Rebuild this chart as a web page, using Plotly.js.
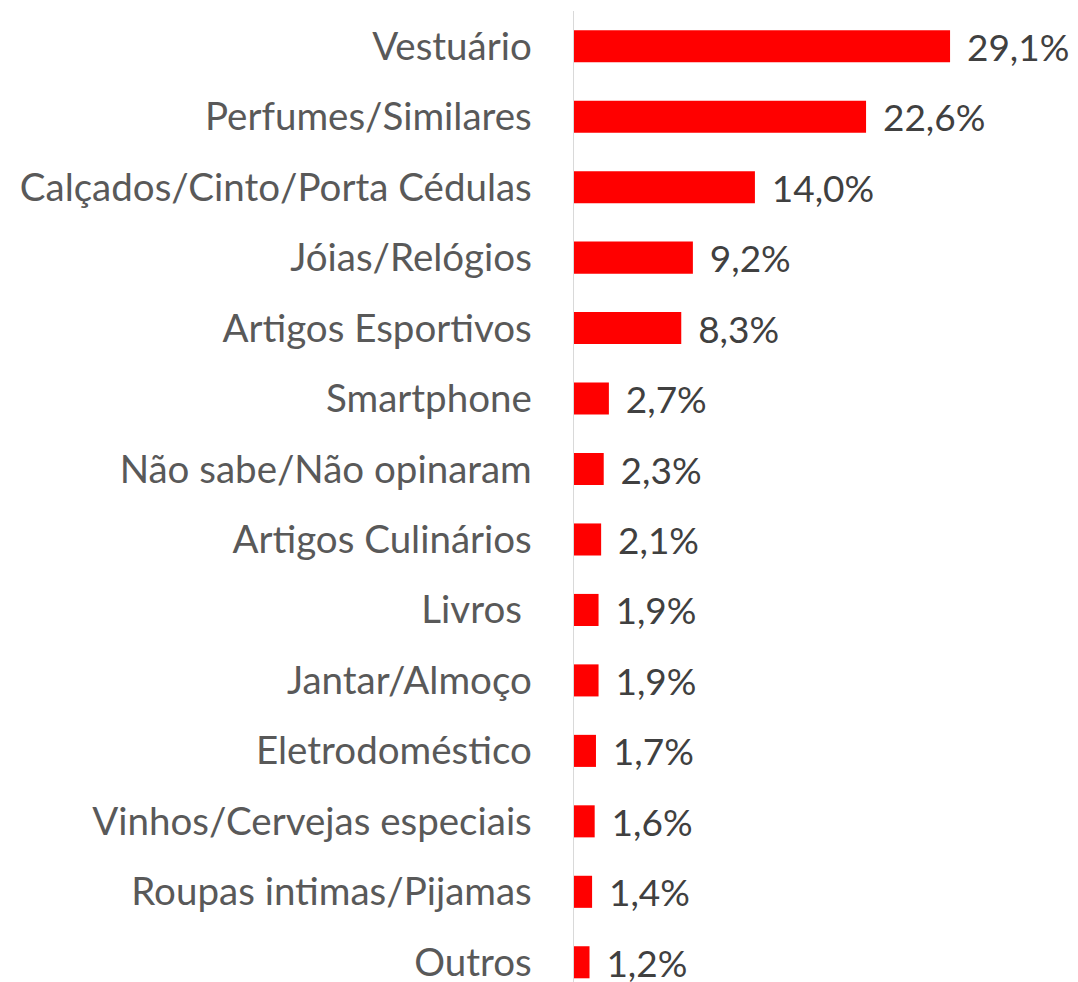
<!DOCTYPE html>
<html>
<head>
<meta charset="utf-8">
<script src="https://cdn.plot.ly/plotly-3.0.1.min.js"></script>
<style>html,body{margin:0;padding:0;background:#fff;}#chart{width:1078px;height:982px;}</style>
</head>
<body>
<div id="chart"></div>
<script>
const categories = [
  "Vestuário",
  "Perfumes/Similares",
  "Calçados/Cinto/Porta Cédulas",
  "Jóias/Relógios",
  "Artigos Esportivos",
  "Smartphone",
  "Não sabe/Não opinaram",
  "Artigos Culinários",
  "Livros\u00a0",
  "Jantar/Almoço",
  "Eletrodoméstico",
  "Vinhos/Cervejas especiais",
  "Roupas intimas/Pijamas",
  "Outros"
];
const values = [29.1, 22.6, 14.0, 9.2, 8.3, 2.7, 2.3, 2.1, 1.9, 1.9, 1.7, 1.6, 1.4, 1.2];
const valueLabels = values.map(v => "\u2009\u2009\u2009" + v.toFixed(1).replace(".", ",") + "%");

const FONT = "Lato, 'Open Sans', sans-serif";

const trace = {
  type: "bar",
  orientation: "h",
  x: values,
  y: categories,
  text: valueLabels,
  textposition: "outside",
  constraintext: "none",
  cliponaxis: false,
  textfont: {family: FONT, size: 37, color: "#404040"},
  marker: {color: "#FF0000"},
  width: 0.455,
  hoverinfo: "none"
};

const layout = {
  width: 1078,
  height: 982,
  margin: {l: 574, r: 0, t: 11, b: 0, pad: 0},
  paper_bgcolor: "#ffffff",
  plot_bgcolor: "#ffffff",
  showlegend: false,
  xaxis: {
    range: [0, 39.0],
    visible: false,
    showgrid: false,
    zeroline: false,
    fixedrange: true
  },
  yaxis: {
    type: "category",
    range: [13.28, -0.5],
    showline: true,
    linecolor: "#d9d9d9",
    linewidth: 1.5,
    ticks: "",
    showgrid: false,
    zeroline: false,
    automargin: false,
    ticklabelstandoff: 33,
    tickfont: {family: FONT, size: 38.5, color: "#595959"}
  }
};

Plotly.newPlot("chart", [trace], layout, {displayModeBar: false, staticPlot: true});
</script>
</body>
</html>
